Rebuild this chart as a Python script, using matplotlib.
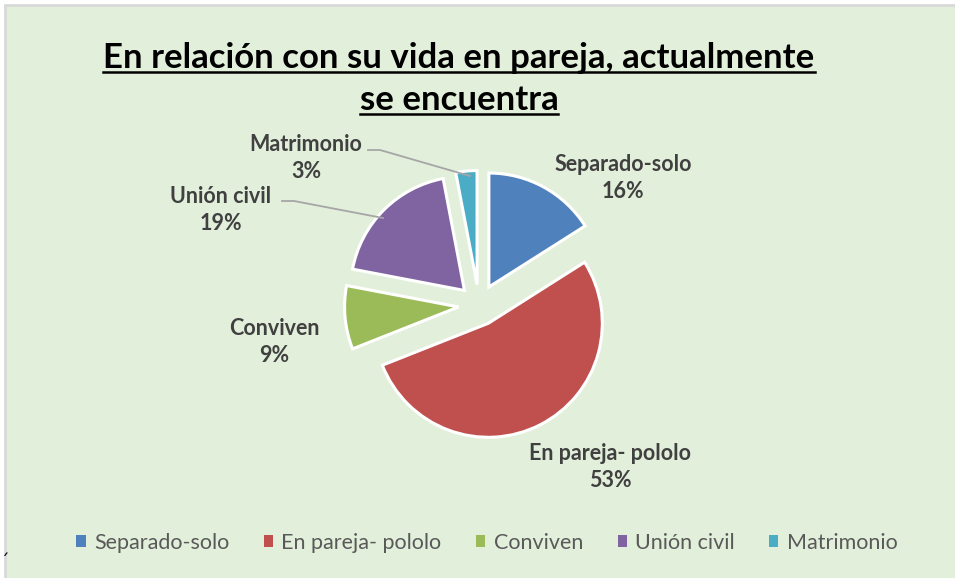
import matplotlib
matplotlib.use("Agg")
import matplotlib.pyplot as plt
from matplotlib.patches import Rectangle, Patch
import numpy as np

# data
categories = ["Separado-solo", "En pareja- pololo", "Conviven", "Unión civil", "Matrimonio"]
values = [16, 53, 9, 19, 3]
colors = ["#4f81bd", "#c0504d", "#9bbb59", "#8064a2", "#4bacc6"]
title_lines = ["En relación con su vida en pareja, actualmente", "se encuentra"]

W, H = 955, 578
FONT = "Lato"

fig = plt.figure(figsize=(W / 100, H / 100), dpi=100)
ax = fig.add_axes([0, 0, 1, 1])

# chart area (light green, grey border cut off at right/bottom)
ax.add_patch(Rectangle((5, -10), W + 10, H - 5 + 10, facecolor="#e2efda",
                       edgecolor="#d9d9d9", linewidth=2, zorder=0))
ax.text(1, H - 562, "´", fontsize=12, color="black", ha="left", va="center")

# pie (explode is in data units here, so scale by radius)
cx, cy, R = 479, H - 305, 114
wedges, _ = ax.pie(values, colors=colors, startangle=90, counterclock=False,
                   explode=[0.18 * R] * len(values), center=(cx, cy), radius=R,
                   wedgeprops=dict(edgecolor="white", linewidth=2.2),
                   frame=True)
ax.set_xlim(0, W)
ax.set_ylim(0, H)
ax.set_aspect("equal")
ax.axis("off")

# label positions (pixel coords, y down) and leader lines
label_pos = [(623, 178), (610, 467), (274, 342), (221, 210), (306, 158)]
leader = [None, None, None, ((282, 201), (383, 218)), ((368, 150), (470, 176))]
for wdg, cat, val, (lx, ly), ld in zip(wedges, categories, values, label_pos, leader):
    ax.text(lx, H - ly, f"{cat}\n{val}%", ha="center", va="center",
            fontsize=15.5, fontweight="bold", color="#404040", family=FONT,
            linespacing=1.3, zorder=5)
    if ld is not None:
        (x0, y0), (x1, y1) = ld
        ax.plot([x0, x0 + 12, x1], [H - y0, H - y0, H - y1], color="#a6a6a6",
                linewidth=1.3, zorder=4)

# title with underline
title_y = [58, 100]
fig.canvas.draw()
renderer = fig.canvas.get_renderer()
for line, ty in zip(title_lines, title_y):
    t = ax.text(459, H - ty, line, ha="center", va="center", fontsize=25,
                fontweight="bold", color="black", family=FONT, zorder=5)
    bb = t.get_window_extent(renderer=renderer)
    ax.plot([bb.x0, bb.x1], [H - ty - 14, H - ty - 14], color="black",
            linewidth=1.8, zorder=5)

# legend
handles = [Patch(facecolor=c, edgecolor="none") for c in colors]
leg = ax.legend(handles, categories, loc="center", bbox_to_anchor=(0.51, 1 - 543 / H),
                ncol=5, frameon=False, handlelength=0.42, handleheight=0.5,
                handletextpad=0.4, columnspacing=1.6,
                prop=dict(family=FONT, size=15.5))
for txt in leg.get_texts():
    txt.set_color("#595959")

fig.savefig("out.png", dpi=100, facecolor="white")
